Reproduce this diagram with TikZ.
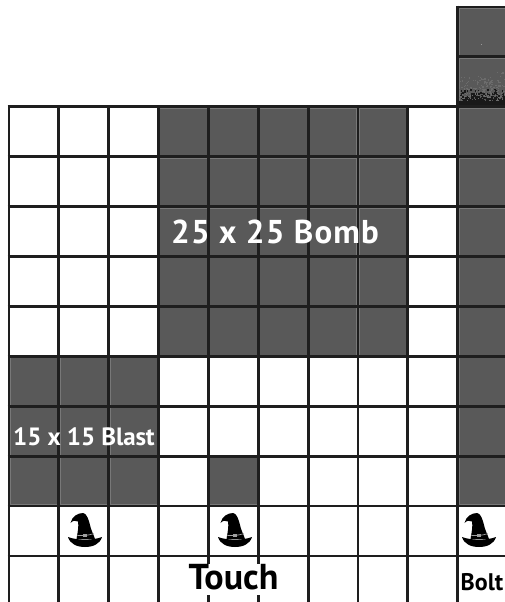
\documentclass[tikz,border=0pt]{standalone}
\usepackage{fontspec}
\setmainfont{PT Sans}
\usetikzlibrary{positioning,calc}
\definecolor{cellgray}{HTML}{595959}
\definecolor{cellrim}{HTML}{787878}
\definecolor{gridline}{HTML}{1E1E1E}

\begin{document}
\begin{tikzpicture}[
  x=1pt, y=-1pt,
  cell/.style={fill=cellgray, draw=cellrim, line width=0.7pt, minimum size=47.4pt,
    inner sep=0pt, outer sep=0pt},
  gridln/.style={draw=gridline, line width=2.8pt},
  bomblabel/.style={text=white, font=\fontsize{33}{36}\selectfont\bfseries\addfontfeatures{LetterSpace=3.4}, inner sep=0pt},
  blastlabel/.style={text=white, font=\fontsize{25}{28}\selectfont\bfseries\addfontfeatures{LetterSpace=-0.5}, inner sep=0pt},
  hat/.pic={
    \fill[black] (-17,24) .. controls (-8,27.5) and (8,27.5) .. (17,24)
      .. controls (15,31) and (8,34) .. (0,34) .. controls (-8,34) and (-15,31) .. (-17,24) -- cycle;
    \fill[black] (-8.5,26) .. controls (-7.5,20) and (-6,13) .. (-7,8.5)
      .. controls (-9,7) and (-12.5,7.5) .. (-14.5,10)
      .. controls (-13,3) and (-7,0) .. (-1.7,0)
      .. controls (2,0.5) and (4,8) .. (5,12) .. controls (6,17) and (8,20) .. (10,26)
      -- cycle;
    \draw[gray!75, line width=0.7pt] (-8,22.3) .. controls (-3,23) and (3,22.5) .. (9,20.6);
    \fill[gray!75] (-2,20.5) rectangle (2,23.5);
  }
]
\useasboundingbox (0,0) rectangle (505,602);
\clip (0,0) rectangle (505,602);

% dark cells
\foreach \c/\r in {3/2,4/2,5/2,6/2,7/2,3/3,4/3,5/3,6/3,7/3,3/4,4/4,5/4,6/4,7/4,3/5,4/5,5/5,6/5,7/5,3/6,4/6,5/6,6/6,7/6,
    0/7,1/7,2/7,0/8,1/8,2/8,0/9,1/9,2/9,4/9,
    9/0,9/1,9/2,9/3,9/4,9/5,9/6,9/7,9/8,9/9}
  \node[cell] (c\c-\r) at ({9+49.85*\c+24.9},{7+49.9*\r+24.95}) {};

% smoke in the top right cell
\pgfmathsetseed{17}
\foreach \i in {1,...,420} {
  \pgfmathsetmacro{\sx}{459+46*rnd}
  \pgfmathsetmacro{\sy}{105-34*rnd*rnd}
  \fill[gray!50!cellgray] (\sx,\sy) rectangle +(1.2,1.2);
}
\foreach \i in {1,...,520} {
  \pgfmathsetmacro{\sx}{459+46*rnd}
  \pgfmathsetmacro{\sy}{106-18*rnd*rnd}
  \fill[black!90] (\sx,\sy) rectangle +(1.5,1.5);
}
\fill[black!90] (458.5,101) rectangle (505,106);
\fill[gray!80] (480.5,44) rectangle +(1.5,1.5);

% grid
\foreach \c in {0,...,8}
  \draw[gridln] ({9+49.85*\c},105.4) -- ({9+49.85*\c},602);
\draw[gridln] (457.6,5.6) -- (457.6,602);
\foreach \r in {2,...,11}
  \draw[gridln] (7.6,{7+49.9*\r}) -- (505,{7+49.9*\r});
\draw[gridln] (456.2,7) -- (505,7);
\draw[gridln] (456.2,56.9) -- (505,56.9);

% labels
\node[bomblabel, anchor=base west] (bomb) at (171,243) {25 x 25 Bomb};
\node[blastlabel, anchor=base west] (blast) at (13,445) {15 x 15 Blast};
\node[fill=white, inner sep=0pt, minimum width=88pt, minimum height=31pt] (touchbg) at (234,579.5) {};
\node[inner sep=0pt, anchor=base] (touch) at (233.5,589)
  {\fontsize{36}{38}\selectfont\bfseries Touch};
\node[anchor=base west, inner sep=0pt] (bolt) at (460.5,590)
  {\fontsize{24}{26}\selectfont\bfseries Bolt};

% hats
\pic at (85,513) {hat};
\pic at (235,513) {hat};
\pic at (479,513) {hat};
\end{tikzpicture}
\end{document}
